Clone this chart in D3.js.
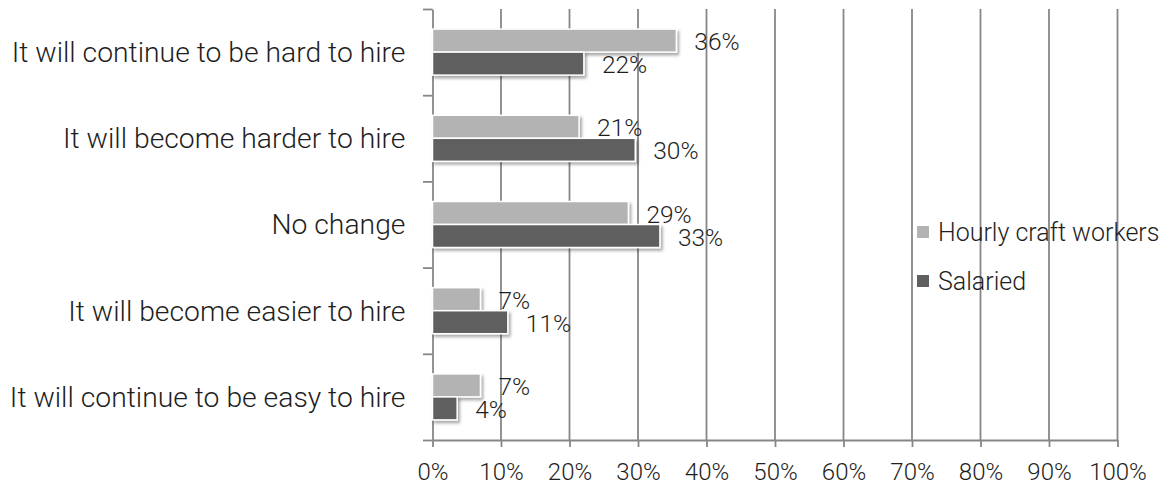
<!DOCTYPE html>
<html>
<head>
<meta charset="utf-8">
<script src="https://cdnjs.cloudflare.com/ajax/libs/d3/7.8.5/d3.min.js"></script>
<style>
  body { margin: 0; background: #fff; }
  svg text { font-family: Roboto, "Open Sans", sans-serif; font-weight: 300; fill: #1e1e1e; }
</style>
</head>
<body>
<div class="chart"></div>
<script>
const categories = [
  'It will continue to be hard to hire',
  'It will become harder to hire',
  'No change',
  'It will become easier to hire',
  'It will continue to be easy to hire'
]
const seriesNames = ['Hourly craft workers', 'Salaried']
const hourly = [35.6, 21.4, 28.6, 7.0, 7.0]
const salaried = [22.1, 29.6, 33.2, 11.0, 3.6]
const tickValues = [0, 10, 20, 30, 40, 50, 60, 70, 80, 90, 100]

const colors = ['#b3b3b3', '#5f5f5f']
const gridColor = '#878787'

const width = 1176, height = 486
const margin = {top: 9, right: 58.5, bottom: 46, left: 432.5}

const svg = d3.select('.chart')
  .append('svg')
  .attr('width', width)
  .attr('height', height)

const defs = svg.append('defs')
defs.append('filter')
  .attr('id', 'shadow')
  .attr('x', '-10%').attr('y', '-30%')
  .attr('width', '130%').attr('height', '180%')
  .append('feDropShadow')
  .attr('dx', 2).attr('dy', 2.5)
  .attr('stdDeviation', 1.6)
  .attr('flood-color', '#000')
  .attr('flood-opacity', 0.35)

let x = d3.scaleLinear()
  .domain([0, 100])
  .range([margin.left, width - margin.right])

let y = d3.scaleBand()
  .domain(categories)
  .range([margin.top, height - margin.bottom])
  .paddingInner(0.466)
  .paddingOuter(0.233)

let ySub = d3.scaleBand()
  .domain(seriesNames)
  .range([0, y.bandwidth()])

// boundaries between categories, for the left axis ticks
let yEdge = d3.scaleLinear()
  .domain([0, categories.length])
  .range([margin.top, height - margin.bottom])

// vertical gridlines
svg.append('g')
  .selectAll('line')
  .data(tickValues.filter(d => d > 0))
  .enter()
  .append('line')
  .attr('x1', d => x(d))
  .attr('x2', d => x(d))
  .attr('y1', margin.top)
  .attr('y2', height - margin.bottom)
  .style('stroke', gridColor)
  .style('stroke-width', 1.8)

const xAxis = svg.append('g')
  .attr('transform', `translate(0,${height - margin.bottom})`)
  .call(
    d3.axisBottom(x)
      .tickValues(tickValues)
      .tickSize(7)
      .tickSizeOuter(0)
      .tickFormat(d => d + '%')
  )

xAxis.select('.domain').style('stroke', gridColor).style('stroke-width', 1.8)
xAxis.selectAll('.tick line').style('stroke', gridColor).style('stroke-width', 1.8)
xAxis.selectAll('.tick text')
  .attr('y', 23)
  .style('font-size', '24px')
  .style('fill', '#1e1e1e')

const yAxis = svg.append('g')
  .attr('transform', `translate(${margin.left},0)`)
  .call(
    d3.axisLeft(yEdge)
      .tickValues(d3.range(categories.length + 1))
      .tickSize(9.5)
      .tickSizeOuter(0)
      .tickFormat('')
  )

yAxis.select('.domain').style('stroke', gridColor).style('stroke-width', 1.8)
yAxis.selectAll('.tick line').style('stroke', gridColor).style('stroke-width', 1.8)

// category labels
svg.append('g')
  .selectAll('text')
  .data(categories)
  .enter()
  .append('text')
  .attr('x', margin.left - 27)
  .attr('y', d => y(d) + y.bandwidth() / 2)
  .attr('dy', '0.35em')
  .attr('text-anchor', 'end')
  .style('font-size', '28.3px')
  .text(d => d)

const rows = categories.map((c, i) => ({
  category: c,
  values: [hourly[i], salaried[i]]
}))

const groups = svg.append('g')
  .selectAll('g')
  .data(rows)
  .enter()
  .append('g')
  .attr('transform', d => `translate(0,${y(d.category)})`)

groups.selectAll('rect')
  .data(d => d.values.map((v, j) => ({key: seriesNames[j], value: v, j: j})))
  .enter()
  .append('rect')
  .attr('x', x(0))
  .attr('y', d => ySub(d.key))
  .attr('width', d => x(d.value) - x(0))
  .attr('height', ySub.bandwidth())
  .style('fill', d => colors[d.j])
  .style('stroke', '#fff')
  .style('stroke-width', 1.5)
  .attr('filter', 'url(#shadow)')

groups.selectAll('text')
  .data(d => d.values.map((v, j) => ({key: seriesNames[j], value: v, j: j})))
  .enter()
  .append('text')
  .attr('x', d => x(d.value) + 18)
  .attr('y', d => ySub(d.key) + ySub.bandwidth() / 2 + 1)
  .attr('dy', '0.35em')
  .style('font-size', '24.5px')
  .text(d => Math.round(d.value) + '%')

// legend
const legend = svg.append('g')
  .attr('transform', 'translate(917,232)')

const items = legend.selectAll('g')
  .data(seriesNames)
  .enter()
  .append('g')
  .attr('transform', (d, i) => `translate(0,${i * 49})`)

items.append('rect')
  .attr('x', 0)
  .attr('y', -6)
  .attr('width', 12)
  .attr('height', 12)
  .style('fill', (d, i) => colors[i])

items.append('text')
  .attr('x', 21)
  .attr('y', 0)
  .attr('dy', '0.35em')
  .style('font-size', '25px')
  .text(d => d)
</script>
</body>
</html>
